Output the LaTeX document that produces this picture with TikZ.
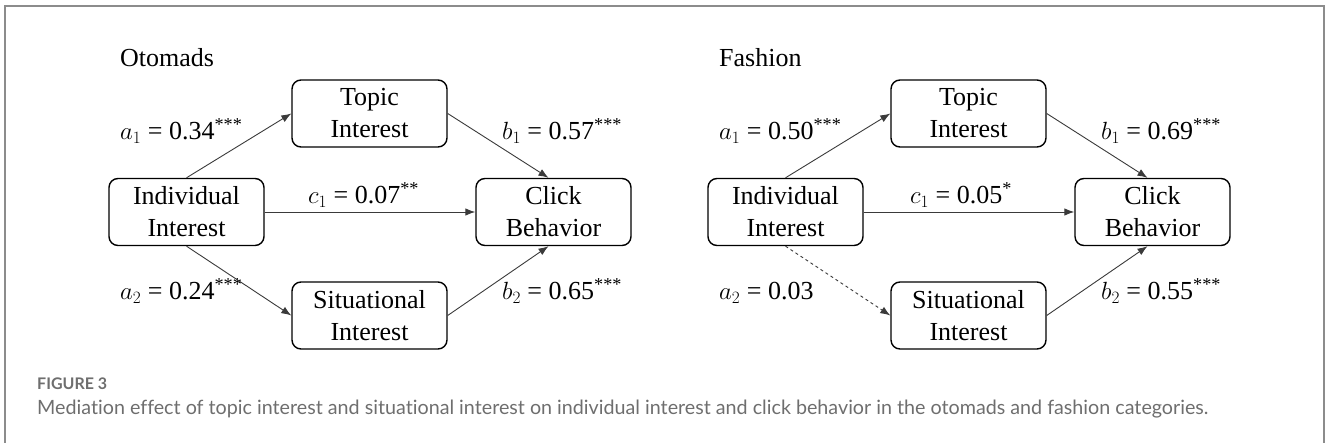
\documentclass[tikz,border=0pt]{standalone}
\usepackage{fontspec}
\setmainfont{Liberation Serif}
\newfontfamily\capfont[Ligatures=NoCommon]{Lato}
\usetikzlibrary{arrows.meta,positioning}
\definecolor{capgray}{HTML}{6E6E6E}
\definecolor{framegray}{HTML}{8C8C8C}
\definecolor{linkgray}{HTML}{3A3A3A}

\begin{document}
\begin{tikzpicture}[x=1pt,y=-1pt,>={Latex[length=10pt,width=7.5pt]},
var/.style={draw, rounded corners=9pt, line width=1.4pt, minimum width=155pt, minimum height=67pt, inner sep=2pt, align=center, font=\fontsize{26}{32}\selectfont},
coef/.style={anchor=base west, inner sep=0pt, font=\fontsize{26}{32}\selectfont},
link/.style={->, draw=linkgray, line width=0.9pt}]
\useasboundingbox (0,0) rectangle (1328,443);
\draw[framegray, line width=2pt] (5,460) -- (5,6) -- (1324,6) -- (1324,460);

% Otomads
\node[coef] (ttl1) at (120,67) {Otomads};
\node[var] (ind1) at (186.5,212) {Individual\\Interest};
\node[var] (top1) at (369.5,113.5) {Topic\\Interest};
\node[var] (sit1) at (369.5,315.5) {Situational\\Interest};
\node[var] (clk1) at (553.5,212) {Click\\Behavior};
\node[coef] (a1o) at (120,140) {$a_1$ = 0.34\textsuperscript{***}};
\node[coef] (c1o) at (308,204) {$c_1$ = 0.07\textsuperscript{**}};
\node[coef] (b1o) at (502,140) {$b_1$ = 0.57\textsuperscript{***}};
\node[coef] (a2o) at (120,300) {$a_2$ = 0.24\textsuperscript{***}};
\node[coef] (b2o) at (502,300) {$b_2$ = 0.65\textsuperscript{***}};

% Fashion
\node[coef] (ttl2) at (719,67) {Fashion};
\node[var] (ind2) at (785.5,212) {Individual\\Interest};
\node[var] (top2) at (968.5,113.5) {Topic\\Interest};
\node[var] (sit2) at (968.5,315.5) {Situational\\Interest};
\node[var] (clk2) at (1152.5,212) {Click\\Behavior};
\node[coef] (a1f) at (719,140) {$a_1$ = 0.50\textsuperscript{***}};
\node[coef] (c1f) at (910,204) {$c_1$ = 0.05\textsuperscript{*}};
\node[coef] (b1f) at (1101,140) {$b_1$ = 0.69\textsuperscript{***}};
\node[coef] (a2f) at (719,300) {$a_2$ = 0.03};
\node[coef] (b2f) at (1101,300) {$b_2$ = 0.55\textsuperscript{***}};

\begin{scope}
\draw[link] (ind1.north) -- (top1.west);
\draw[link] (ind1.south) -- (sit1.west);
\draw[link] (ind1.east) -- (clk1.west);
\draw[link] (top1.east) -- ([xshift=-5pt]clk1.north);
\draw[link] (sit1.east) -- ([xshift=-5pt]clk1.south);
\draw[link] (ind2.north) -- (top2.west);
\draw[link, dashed] (ind2.south) -- (sit2.west);
\draw[link] (ind2.east) -- (clk2.west);
\draw[link] (top2.east) -- ([xshift=-5pt]clk2.north);
\draw[link] (sit2.east) -- ([xshift=-5pt]clk2.south);
\end{scope}

% caption
\node[anchor=base west, inner sep=0pt, text=capgray, font=\capfont\bfseries\fontsize{16}{18}\selectfont] (fig) at (37,390) {FIGURE 3};
\node[anchor=base west, inner sep=0pt, text=capgray, font=\capfont\fontsize{19.7}{22}\selectfont] (cap) at (37,414) {Mediation effect of topic interest and situational interest on individual interest and click behavior in the otomads and fashion categories.};
\end{tikzpicture}
\end{document}
